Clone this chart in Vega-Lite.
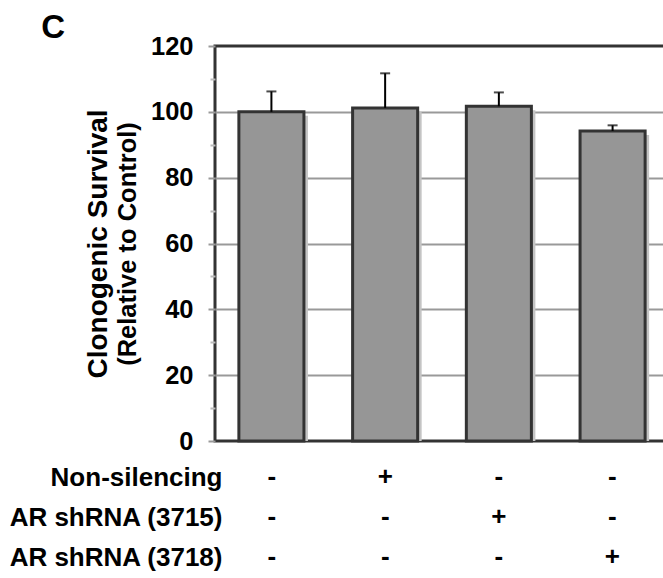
{
  "$schema": "https://vega.github.io/schema/vega-lite/v6.json",
  "padding": {"left": 8, "top": 11, "right": 0, "bottom": 0},
  "background": "white",
  "config": {"font": "Liberation Sans", "view": {"stroke": null}},
  "title": {"text": "C", "anchor": "start", "frame": "bounds", "fontSize": 33, "fontWeight": "bold", "color": "black", "dx": 33, "offset": -12},
  "spacing": 16,
  "bounds": "flush",
  "vconcat": [
    {
      "width": 454,
      "height": 395,
      "view": {"stroke": "#333333", "strokeWidth": 3},
      "data": {"values": [
        {"group": "1", "value": 100.0, "upper": 106.2},
        {"group": "2", "value": 101.2, "upper": 111.7},
        {"group": "3", "value": 101.7, "upper": 105.9},
        {"group": "4", "value": 94.2, "upper": 95.9}
      ]},
      "encoding": {
        "x": {"field": "group", "type": "nominal", "sort": null, "axis": null,
              "scale": {"paddingInner": 0.428, "paddingOuter": 0.21}}
      },
      "layer": [
        {
          "mark": {"type": "bar", "fill": "#c4c4c4", "xOffset": 4, "yOffset": 4, "clip": true},
          "encoding": {
            "y": {"field": "value", "type": "quantitative", "scale": {"domain": [0, 120], "nice": false}, "axis": null}
          }
        },
        {
          "mark": {"type": "bar", "fill": "#969696", "stroke": "#333333", "strokeWidth": 3},
          "encoding": {
            "y": {"field": "value", "type": "quantitative", "scale": {"domain": [0, 120], "nice": false},
                  "axis": {"orient": "left", "values": [0, 20, 40, 60, 80, 100, 120],
                           "title": "(Relative to Control)", "titleFontSize": 25.5, "titleFontWeight": "bold", "titleColor": "black", "titlePadding": 10,
                           "labelFontSize": 25.5, "labelFontWeight": "bold", "labelColor": "black", "labelPadding": 15,
                           "labelFlush": false, "labelOverlap": false,
                           "tickSize": 7, "tickColor": "#999999", "tickWidth": 2, "domain": false,
                           "grid": true, "gridWidth": 2,
                           "gridColor": {"condition": {"test": "datum.value === 0 || datum.value === 120", "value": "transparent"}, "value": "#999999"}}}
          }
        },
        {
          "mark": {"type": "rule", "color": "black", "strokeWidth": 2},
          "encoding": {
            "y": {"field": "value", "type": "quantitative", "scale": {"domain": [0, 120], "nice": false},
                  "axis": {"orient": "left", "values": [10, 30, 50, 70, 90, 110], "labels": false, "domain": false, "grid": false,
                           "tickSize": 5, "tickColor": "#bbbbbb", "tickWidth": 2,
                           "title": "Clonogenic Survival", "titleFontSize": 28, "titleFontWeight": "bold", "titleColor": "black", "titlePadding": 97}},
            "y2": {"field": "upper"}
          }
        },
        {
          "mark": {"type": "tick", "color": "black", "thickness": 2, "size": 10, "orient": "horizontal"},
          "encoding": {
            "y": {"field": "upper", "type": "quantitative", "scale": {"domain": [0, 120], "nice": false}, "axis": null}
          }
        }
      ],
      "resolve": {"axis": {"y": "independent"}}
    },
    {
      "width": 454,
      "height": 120,
      "data": {"values": [
        {"group": "1", "row": "Non-silencing", "sign": "-"},
        {"group": "2", "row": "Non-silencing", "sign": "+"},
        {"group": "3", "row": "Non-silencing", "sign": "-"},
        {"group": "4", "row": "Non-silencing", "sign": "-"},
        {"group": "1", "row": "AR shRNA (3715)", "sign": "-"},
        {"group": "2", "row": "AR shRNA (3715)", "sign": "-"},
        {"group": "3", "row": "AR shRNA (3715)", "sign": "+"},
        {"group": "4", "row": "AR shRNA (3715)", "sign": "-"},
        {"group": "1", "row": "AR shRNA (3718)", "sign": "-"},
        {"group": "2", "row": "AR shRNA (3718)", "sign": "-"},
        {"group": "3", "row": "AR shRNA (3718)", "sign": "-"},
        {"group": "4", "row": "AR shRNA (3718)", "sign": "+"}
      ]},
      "mark": {"type": "text", "fontSize": 26, "fontWeight": "bold", "color": "black"},
      "encoding": {
        "x": {"field": "group", "type": "nominal", "sort": null, "axis": null,
              "scale": {"paddingInner": 0.428, "paddingOuter": 0.21}},
        "y": {"field": "row", "type": "nominal", "sort": ["Non-silencing", "AR shRNA (3715)", "AR shRNA (3718)"],
              "scale": {"paddingInner": 0, "paddingOuter": 0},
              "axis": {"title": null, "domain": false, "ticks": false, "tickSize": 0, "labelPadding": -7, "labelLimit": 0,
                       "labelFontSize": 26, "labelFontWeight": "bold", "labelColor": "black", "labelAlign": "right"}},
        "text": {"field": "sign"}
      }
    }
  ]
}
